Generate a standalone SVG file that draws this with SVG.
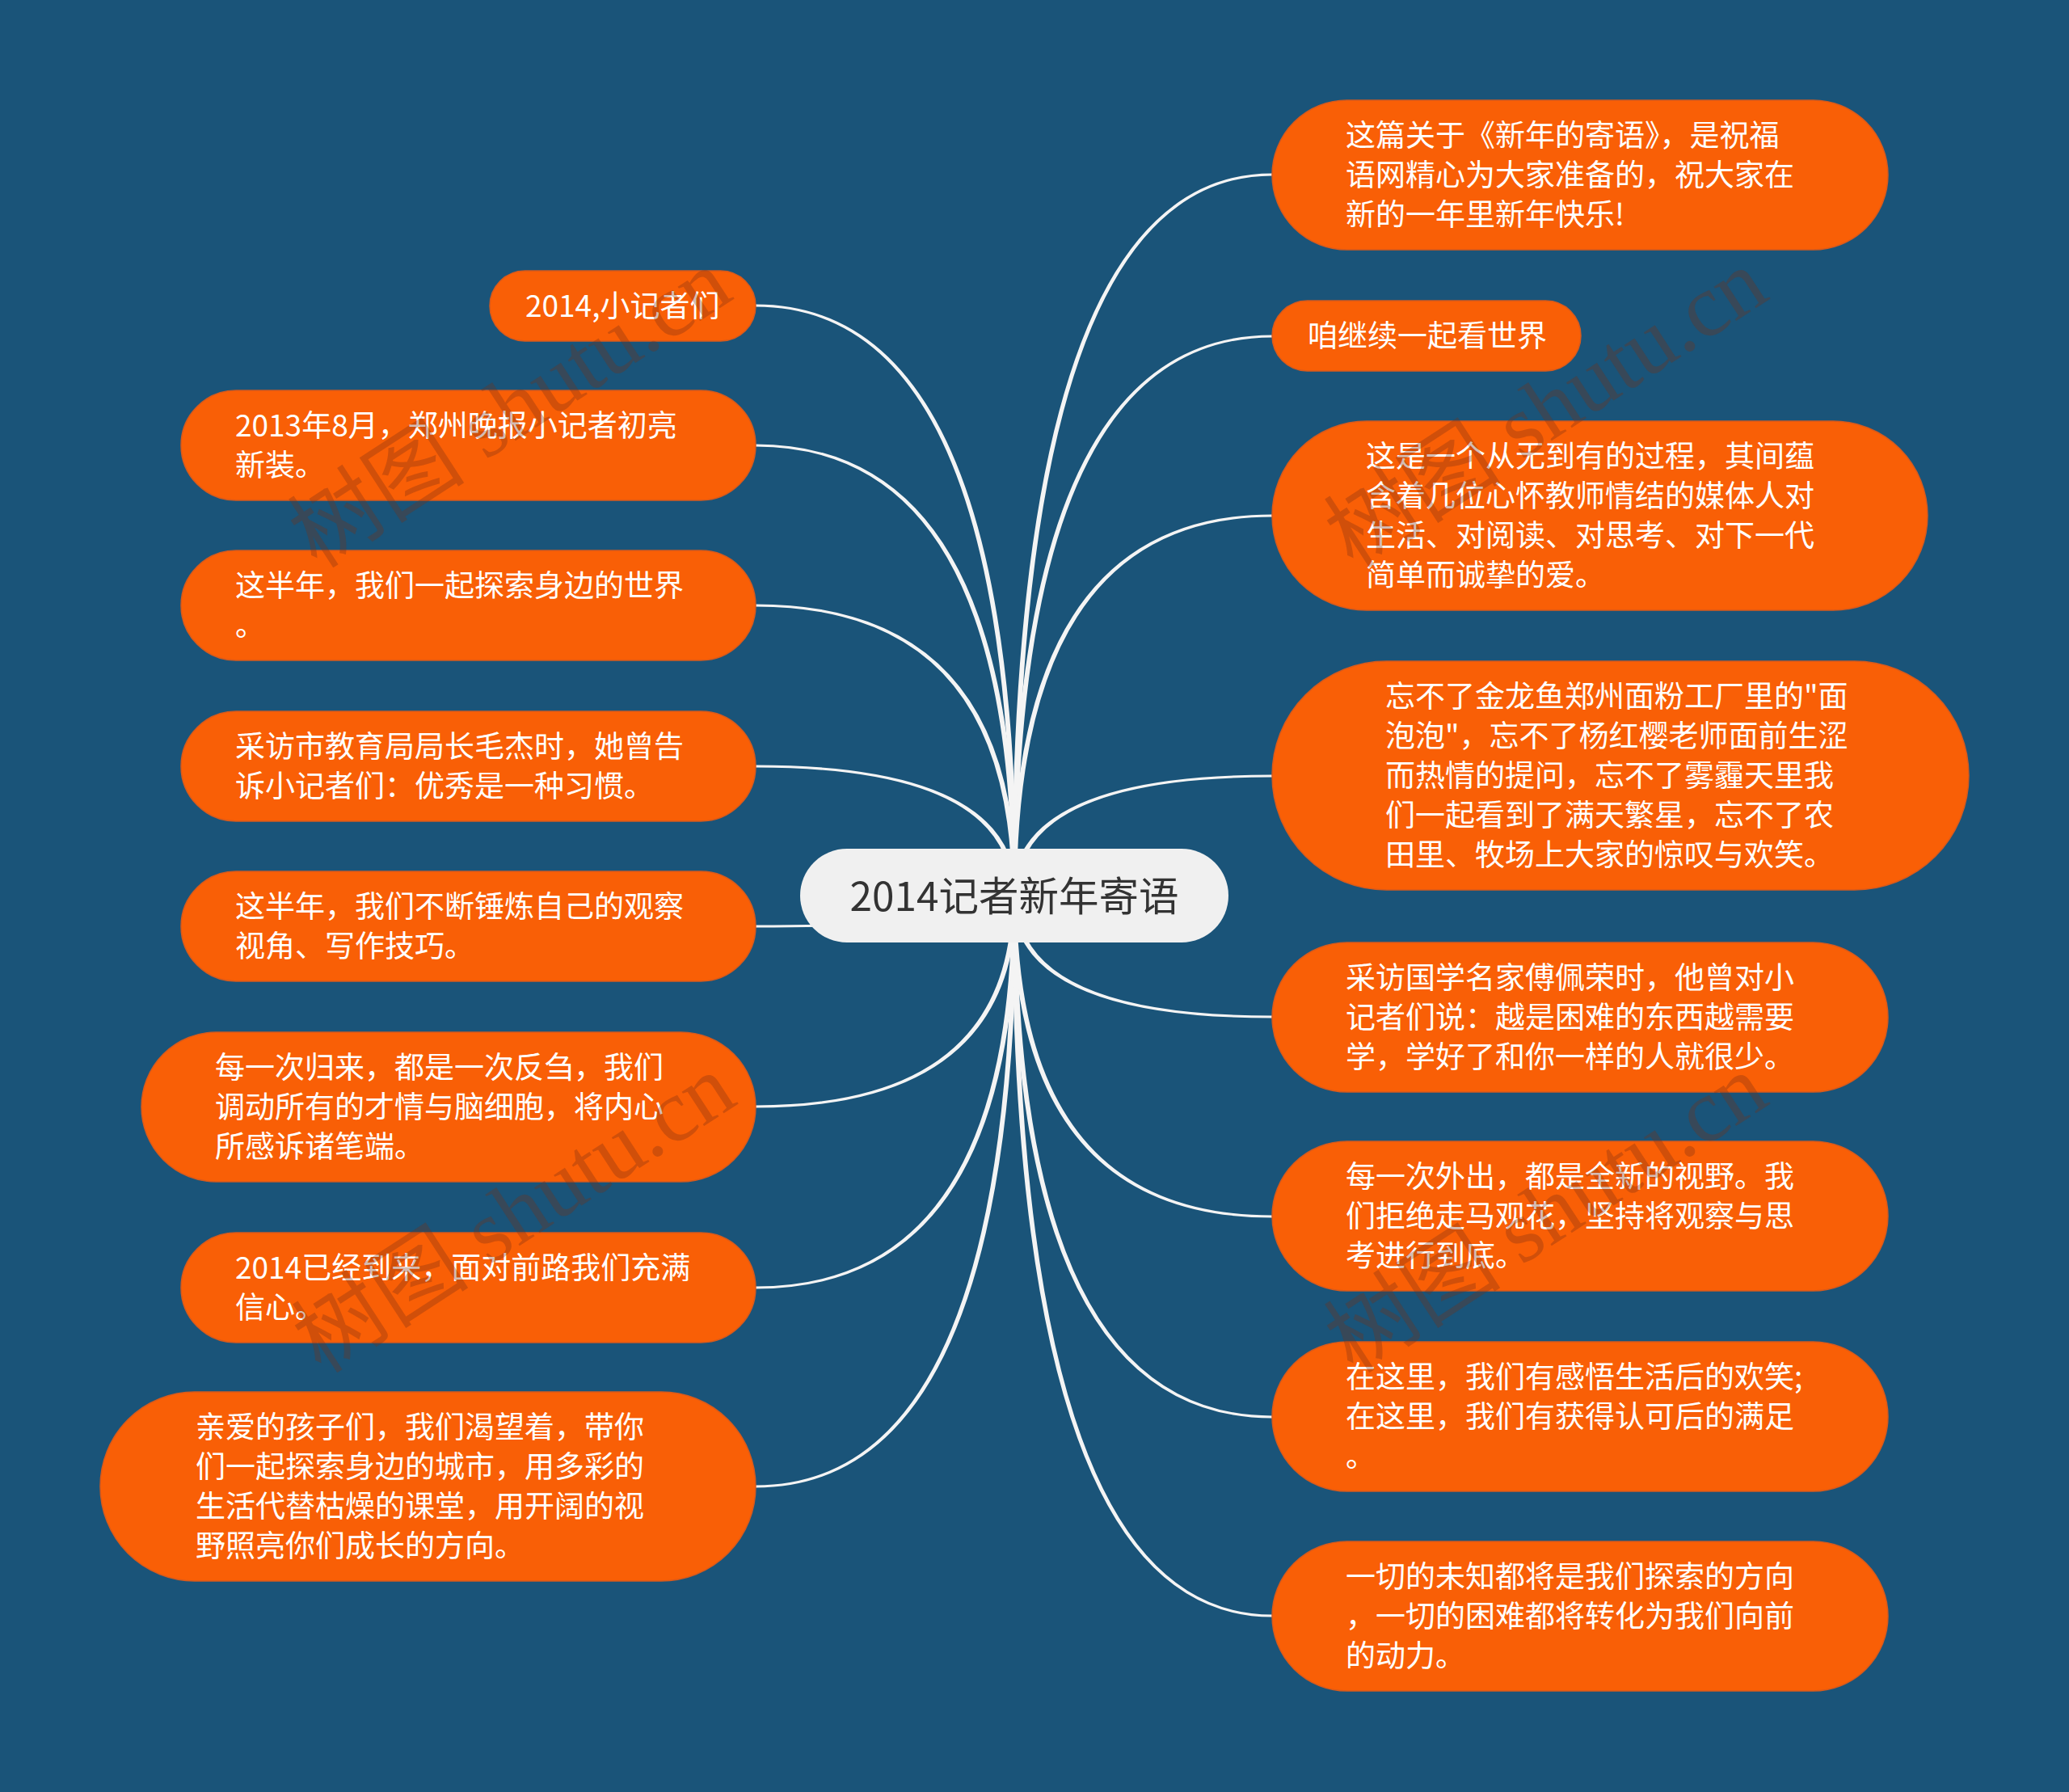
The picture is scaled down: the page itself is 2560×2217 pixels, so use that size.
<svg xmlns="http://www.w3.org/2000/svg" width="2560" height="2217" viewBox="0 0 2560 2217">
<style>
.bg{fill:#1a5479}
.node rect{fill:#f95f06;stroke:#d85a1c;stroke-width:1.5}
.node text{font-family:"Noto Sans CJK SC","Noto Sans",sans-serif;font-size:37px;fill:#ffffff}
.root rect{fill:#f0f0f0}
.root text{font-family:"Noto Sans CJK SC","Noto Sans",sans-serif;font-size:49.5px;fill:#333333}
.conn path{fill:#f4f4f4}
.wm text{font-family:"Liberation Serif","Noto Sans CJK SC",serif;font-size:110px;fill:#7a2e14;fill-opacity:0.32}
</style>
<rect class="bg" x="0" y="0" width="2560" height="2217"/>
<g id="connectors" class="conn">
<path d="M1258 1108 Q1258 376.5 935 376.5 L935 379.5 Q1252 379.5 1252 1108Z"/>
<path d="M1258 1108 Q1258 549.5 935 549.5 L935 552.5 Q1252 552.5 1252 1108Z"/>
<path d="M1258 1108 Q1258 747.5 935 747.5 L935 750.5 Q1252 750.5 1252 1108Z"/>
<path d="M1258 1108 Q1258 946.5 935 946.5 L935 949.5 Q1252 949.5 1252 1108Z"/>
<path d="M1258 1108 Q1258 1147.5 935 1147.5 L935 1144.5 Q1252 1144.5 1252 1108Z"/>
<path d="M1258 1108 Q1258 1370.5 935 1370.5 L935 1367.5 Q1252 1367.5 1252 1108Z"/>
<path d="M1258 1108 Q1258 1594.5 935 1594.5 L935 1591.5 Q1252 1591.5 1252 1108Z"/>
<path d="M1258 1108 Q1258 1840.5 935 1840.5 L935 1837.5 Q1252 1837.5 1252 1108Z"/>
<path d="M1252 1108 Q1252 214.5 1574 214.5 L1574 217.5 Q1258 217.5 1258 1108Z"/>
<path d="M1252 1108 Q1252 414.5 1574 414.5 L1574 417.5 Q1258 417.5 1258 1108Z"/>
<path d="M1252 1108 Q1252 636.5 1574 636.5 L1574 639.5 Q1258 639.5 1258 1108Z"/>
<path d="M1252 1108 Q1252 958.5 1574 958.5 L1574 961.5 Q1258 961.5 1258 1108Z"/>
<path d="M1252 1108 Q1252 1259.5 1574 1259.5 L1574 1256.5 Q1258 1256.5 1258 1108Z"/>
<path d="M1252 1108 Q1252 1506.5 1574 1506.5 L1574 1503.5 Q1258 1503.5 1258 1108Z"/>
<path d="M1252 1108 Q1252 1754.5 1574 1754.5 L1574 1751.5 Q1258 1751.5 1258 1108Z"/>
<path d="M1252 1108 Q1252 2000.5 1574 2000.5 L1574 1997.5 Q1258 1997.5 1258 1108Z"/>
</g>
<g id="root" class="root">
<rect x="990" y="1050" width="530" height="116" rx="58"/>
<text x="1255" y="1127" text-anchor="middle">2014记者新年寄语</text>
</g>
<g id="L1" class="node">
<rect x="606" y="335" width="329" height="87" rx="43.5"/>
<text x="650" y="392">2014,小记者们</text>
</g>
<g id="L2" class="node">
<rect x="224" y="483" width="711" height="136" rx="68"/>
<text x="291" y="540">2013年8月，郑州晚报小记者初亮</text>
<text x="291" y="589">新装。</text>
</g>
<g id="L3" class="node">
<rect x="224" y="681" width="711" height="136" rx="68"/>
<text x="291" y="738">这半年，我们一起探索身边的世界</text>
<text x="291" y="787">。</text>
</g>
<g id="L4" class="node">
<rect x="224" y="880" width="711" height="136" rx="68"/>
<text x="291" y="937">采访市教育局局长毛杰时，她曾告</text>
<text x="291" y="986">诉小记者们：优秀是一种习惯。</text>
</g>
<g id="L5" class="node">
<rect x="224" y="1078" width="711" height="136" rx="68"/>
<text x="291" y="1135">这半年，我们不断锤炼自己的观察</text>
<text x="291" y="1184">视角、写作技巧。</text>
</g>
<g id="L6" class="node">
<rect x="175" y="1277" width="760" height="185" rx="92.5"/>
<text x="266" y="1334">每一次归来，都是一次反刍，我们</text>
<text x="266" y="1383">调动所有的才情与脑细胞，将内心</text>
<text x="266" y="1432">所感诉诸笔端。</text>
</g>
<g id="L7" class="node">
<rect x="224" y="1525" width="711" height="136" rx="68"/>
<text x="291" y="1582">2014已经到来，面对前路我们充满</text>
<text x="291" y="1631">信心。</text>
</g>
<g id="L8" class="node">
<rect x="124" y="1722" width="811" height="234" rx="117"/>
<text x="242" y="1779">亲爱的孩子们，我们渴望着，带你</text>
<text x="242" y="1828">们一起探索身边的城市，用多彩的</text>
<text x="242" y="1877">生活代替枯燥的课堂，用开阔的视</text>
<text x="242" y="1926">野照亮你们成长的方向。</text>
</g>
<g id="R1" class="node">
<rect x="1574" y="124" width="762" height="185" rx="92.5"/>
<text x="1665" y="181">这篇关于《新年的寄语》，是祝福</text>
<text x="1665" y="230">语网精心为大家准备的，祝大家在</text>
<text x="1665" y="279">新的一年里新年快乐!</text>
</g>
<g id="R2" class="node">
<rect x="1574" y="372" width="382" height="87" rx="43.5"/>
<text x="1618" y="429">咱继续一起看世界</text>
</g>
<g id="R3" class="node">
<rect x="1574" y="521" width="811" height="234" rx="117"/>
<text x="1690" y="578">这是一个从无到有的过程，其间蕴</text>
<text x="1690" y="627">含着几位心怀教师情结的媒体人对</text>
<text x="1690" y="676">生活、对阅读、对思考、对下一代</text>
<text x="1690" y="725">简单而诚挚的爱。</text>
</g>
<g id="R4" class="node">
<rect x="1574" y="818" width="862" height="283" rx="141.5"/>
<text x="1714" y="875">忘不了金龙鱼郑州面粉工厂里的"面</text>
<text x="1714" y="924">泡泡"，忘不了杨红樱老师面前生涩</text>
<text x="1714" y="973">而热情的提问，忘不了雾霾天里我</text>
<text x="1714" y="1022">们一起看到了满天繁星，忘不了农</text>
<text x="1714" y="1071">田里、牧场上大家的惊叹与欢笑。</text>
</g>
<g id="R5" class="node">
<rect x="1574" y="1166" width="762" height="185" rx="92.5"/>
<text x="1665" y="1223">采访国学名家傅佩荣时，他曾对小</text>
<text x="1665" y="1272">记者们说：越是困难的东西越需要</text>
<text x="1665" y="1321">学，学好了和你一样的人就很少。</text>
</g>
<g id="R6" class="node">
<rect x="1574" y="1412" width="762" height="185" rx="92.5"/>
<text x="1665" y="1469">每一次外出，都是全新的视野。我</text>
<text x="1665" y="1518">们拒绝走马观花，坚持将观察与思</text>
<text x="1665" y="1567">考进行到底。</text>
</g>
<g id="R7" class="node">
<rect x="1574" y="1660" width="762" height="185" rx="92.5"/>
<text x="1665" y="1717">在这里，我们有感悟生活后的欢笑;</text>
<text x="1665" y="1766">在这里，我们有获得认可后的满足</text>
<text x="1665" y="1815">。</text>
</g>
<g id="R8" class="node">
<rect x="1574" y="1907" width="762" height="185" rx="92.5"/>
<text x="1665" y="1964">一切的未知都将是我们探索的方向</text>
<text x="1665" y="2013">，一切的困难都将转化为我们向前</text>
<text x="1665" y="2062">的动力。</text>
</g>
<g id="watermarks" class="wm">
<text x="640" y="540" text-anchor="middle" transform="rotate(-33 640 519)">树图 shutu.cn</text>
<text x="1922" y="540" text-anchor="middle" transform="rotate(-33 1922 519)">树图 shutu.cn</text>
<text x="645" y="1536" text-anchor="middle" transform="rotate(-33 645 1515)">树图 shutu.cn</text>
<text x="1922" y="1536" text-anchor="middle" transform="rotate(-33 1922 1515)">树图 shutu.cn</text>
</g>
</svg>
